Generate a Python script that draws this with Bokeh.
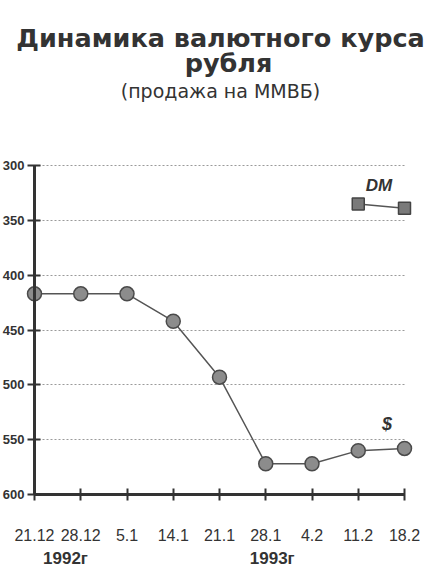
from bokeh.plotting import figure
from bokeh.models import Range1d, FixedTicker, LinearAxis, Label
from bokeh.embed import file_html
from bokeh.resources import INLINE

# ---- data ----
dates = ["21.12", "28.12", "5.1", "14.1", "21.1", "28.1", "4.2", "11.2", "18.2"]
usd = [417, 417, 417, 442, 493, 572, 572, 560, 558]
dm_dates_idx = [7, 8]
dm = [335, 339]
y_ticks = [300, 350, 400, 450, 500, 550, 600]
years = ["1992г", "1993г"]
year_pos = [0.67, 5.14]

title1 = "Динамика валютного курса"
title2 = "рубля"
subtitle = "(продажа на ММВБ)"

x = list(range(len(dates)))

DARK = "#333333"

# ---- layout (pixels) ----
W = 424            # frame spans the whole canvas
H = 570
AX_X = 34          # pixel position of the y axis (x = 0)
STEP = 46.25       # pixels per date step
TOP = 165          # pixel position of the top gridline (300)
FH = 329           # pixel height between 300 and 600
ppu = FH / 300.0


def px_to_x(px):
    return (px - AX_X) / STEP


def py_to_y(py):
    return 300 + (py - TOP) / ppu


p = figure(frame_width=W, frame_height=H,
           x_range=Range1d(px_to_x(0), px_to_x(W)),
           y_range=Range1d(py_to_y(H), py_to_y(0)),
           output_backend="svg", toolbar_location=None,
           min_border_left=0, min_border_right=0, min_border_top=0,
           min_border_bottom=0, background_fill_color="white",
           border_fill_color="white", outline_line_color=None)

# x axis
xa = p.xaxis[0]
xa.fixed_location = 600
xa.ticker = FixedTicker(ticks=x)
xa.major_label_overrides = {i: d for i, d in enumerate(dates)}
xa.bounds = (0, 8)
xa.axis_line_width = 3
xa.axis_line_color = DARK
xa.major_tick_line_width = 2
xa.major_tick_line_color = DARK
xa.major_tick_in = 6
xa.major_tick_out = 6
xa.minor_tick_line_color = None
xa.major_label_standoff = 28
xa.major_label_text_font = "Liberation Sans"
xa.major_label_text_font_size = "16px"
xa.major_label_text_color = DARK

# y axis
ya = p.yaxis[0]
ya.ticker = FixedTicker(ticks=y_ticks)
ya.bounds = (300, 600)
ya.fixed_location = 0
ya.axis_line_width = 3
ya.axis_line_color = DARK
ya.major_tick_line_width = 2
ya.major_tick_line_color = DARK
ya.major_tick_in = 6
ya.major_tick_out = 7
ya.minor_tick_line_color = None
ya.major_label_standoff = 3
ya.major_label_text_font = "Liberation Sans"
ya.major_label_text_font_style = "bold"
ya.major_label_text_font_size = "13px"
ya.major_label_text_color = DARK

# grid
p.xgrid.visible = False
g = p.ygrid[0]
g.ticker = FixedTicker(ticks=y_ticks)
g.grid_line_color = "#9a9a9a"
g.grid_line_dash = "2 2"
g.grid_line_width = 1
if hasattr(g, "cross_bounds"):
    g.cross_bounds = (0, 8)

# year axis
yr = LinearAxis(ticker=FixedTicker(ticks=year_pos),
                fixed_location=py_to_y(538),
                major_label_overrides={pos: t for pos, t in zip(year_pos, years)},
                axis_line_color=None, major_tick_line_color=None,
                minor_tick_line_color=None, major_label_standoff=4,
                major_label_text_font="Liberation Sans",
                major_label_text_font_style="bold",
                major_label_text_font_size="17px",
                major_label_text_color=DARK)
p.add_layout(yr, "below")

# series
p.line(x, usd, line_color="#555555", line_width=1.5)
p.scatter(x, usd, marker="circle", size=14, fill_color="#8c8c8c",
          line_color="#4a4a4a", line_width=1.5)
dm_x = [x[i] for i in dm_dates_idx]
p.line(dm_x, dm, line_color="#555555", line_width=1.5)
p.scatter(dm_x, dm, marker="square", size=12, fill_color="#7a7a7a",
          line_color="#444444", line_width=1.5)

# series labels
p.add_layout(Label(x=7.45, y=py_to_y(185), text="DM", text_align="center",
                   text_baseline="middle", text_font="Liberation Sans",
                   text_font_style="bold italic", text_font_size="17px",
                   text_color=DARK))
p.add_layout(Label(x=7.62, y=py_to_y(423), text="$", text_align="center",
                   text_baseline="middle", text_font="Liberation Sans",
                   text_font_style="bold italic", text_font_size="18px",
                   text_color=DARK))

# titles
p.add_layout(Label(x=px_to_x(220), y=py_to_y(37), text=title1,
                   text_align="center", text_baseline="middle",
                   text_font="DejaVu Sans", text_font_style="bold",
                   text_font_size="25.5px", text_color=DARK))
p.add_layout(Label(x=px_to_x(228), y=py_to_y(62), text=title2,
                   text_align="center", text_baseline="middle",
                   text_font="DejaVu Sans", text_font_style="bold",
                   text_font_size="25.5px", text_color=DARK))
p.add_layout(Label(x=px_to_x(220), y=py_to_y(90), text=subtitle,
                   text_align="center", text_baseline="middle",
                   text_font="DejaVu Sans", text_font_size="19px",
                   text_color=DARK))

open("out.html", "w", encoding="utf-8").write(file_html(p, INLINE))
